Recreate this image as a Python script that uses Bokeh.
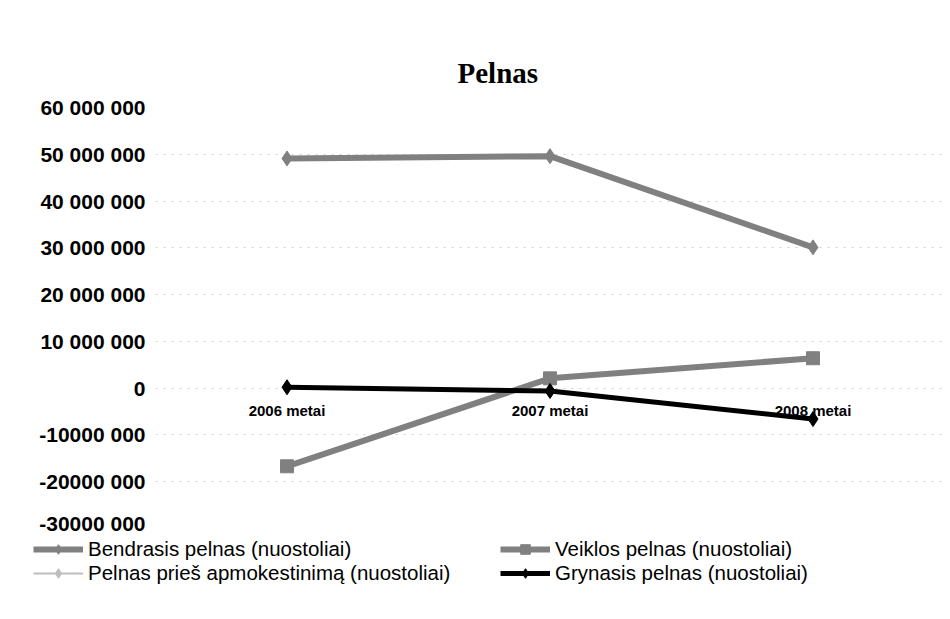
from bokeh.plotting import figure
from bokeh.layouts import column
from bokeh.models import FactorRange, Range1d, Legend, LegendItem, FixedTicker, Title
from bokeh.core.properties import value
from bokeh.embed import file_html
from bokeh.resources import INLINE

years = ["2006 metai", "2007 metai", "2008 metai"]
bendrasis = [49_100_000, 49_600_000, 30_100_000]
veiklos = [-16_700_000, 2_100_000, 6_400_000]
pries_mokescius = [300_000, -500_000, -6_500_000]
grynasis = [200_000, -600_000, -6_600_000]

series_names = ["Bendrasis pelnas (nuostoliai)", "Pelnas prieš apmokestinimą (nuostoliai)",
                "Veiklos pelnas (nuostoliai)", "Grynasis pelnas (nuostoliai)"]

y_ticks = [-30_000_000, -20_000_000, -10_000_000, 0, 10_000_000, 20_000_000,
           30_000_000, 40_000_000, 50_000_000, 60_000_000]
y_tick_labels = ["-30000 000", "-20000 000", "-10000 000", "0", "10 000 000",
                 "20 000 000", "30 000 000", "40 000 000", "50 000 000", "60 000 000"]

p = figure(width=946, height=534, x_range=FactorRange(*years),
           y_range=Range1d(-30_000_000, 60_000_000),
           output_backend="svg", toolbar_location=None,
           min_border_left=155, min_border_right=2, min_border_top=107,
           min_border_bottom=6)
p.frame_align = False

p.title = Title(text="Pelnas", align="left", offset=302, standoff=37,
                text_font="Liberation Serif", text_font_size="29px",
                text_font_style="bold", text_color="black")

p.outline_line_color = None
p.xaxis.visible = False
p.xgrid.visible = False
p.ygrid.grid_line_color = "#d0d0d0"
p.ygrid.grid_line_dash = "2 6"
p.ygrid.grid_line_width = 1

ya = p.yaxis[0]
ya.ticker = FixedTicker(ticks=y_ticks)
ya.major_label_overrides = {t: lab for t, lab in zip(y_ticks, y_tick_labels)}
ya.axis_line_color = None
ya.major_tick_line_color = None
ya.minor_tick_line_color = None
ya.major_label_standoff = 4
ya.major_label_text_font = "Liberation Sans"
ya.major_label_text_font_style = "bold"
ya.major_label_text_font_size = "21px"
ya.major_label_text_color = "black"

grey = "#808080"
light = "#bdbdbd"

styles = [
    dict(color=grey, width=6, marker="diamond", size=15),
    dict(color=light, width=2, marker="diamond", size=12),
    dict(color=grey, width=6, marker="square", size=13),
    dict(color="black", width=5, marker="diamond", size=15),
]
values = [bendrasis, pries_mokescius, veiklos, grynasis]
draw_order = [1, 0, 2, 3]
for i in draw_order:
    s = styles[i]
    p.line(years, values[i], line_color=s["color"], line_width=s["width"])
    p.scatter(years, values[i], marker=s["marker"], size=s["size"], color=s["color"])

p.text(x=years, y=[0, 0, 0], text=years, text_align="center", text_baseline="top",
       y_offset=14, text_font=value("Liberation Sans"), text_font_style="bold",
       text_font_size="15px", text_color="black")

# legend strip below the chart: same series, y-range placed so nothing is in view
q = figure(width=946, height=70, x_range=FactorRange(*years),
           y_range=Range1d(900_000_000, 1_000_000_000),
           output_backend="svg", toolbar_location=None,
           min_border_left=0, min_border_right=0, min_border_top=0, min_border_bottom=0)
q.frame_align = False
q.axis.visible = False
q.grid.visible = False
q.outline_line_color = None

items = []
for i, name in enumerate(series_names):
    s = styles[i]
    lr = q.line(years, values[i], line_color=s["color"], line_width=s["width"])
    mr = q.scatter(years, values[i], marker=s["marker"], size=s["size"], color=s["color"])
    items.append(LegendItem(label=name, renderers=[lr, mr]))

def make_legend(its, loc):
    lg = Legend(items=its, location=loc, orientation="vertical")
    lg.border_line_color = None
    lg.background_fill_alpha = 0
    lg.padding = 0
    lg.margin = 0
    lg.spacing = 0
    lg.glyph_width = 50
    lg.glyph_height = 24
    lg.label_height = 24
    lg.label_standoff = 5
    lg.label_text_font = "Liberation Sans"
    lg.label_text_font_size = "20.5px"
    lg.label_text_color = "black"
    return lg

q.add_layout(make_legend(items[:2], (33, 19)))
q.add_layout(make_legend(items[2:], (500, 19)))

open("out.html", "w").write(file_html(column(p, q), INLINE))
